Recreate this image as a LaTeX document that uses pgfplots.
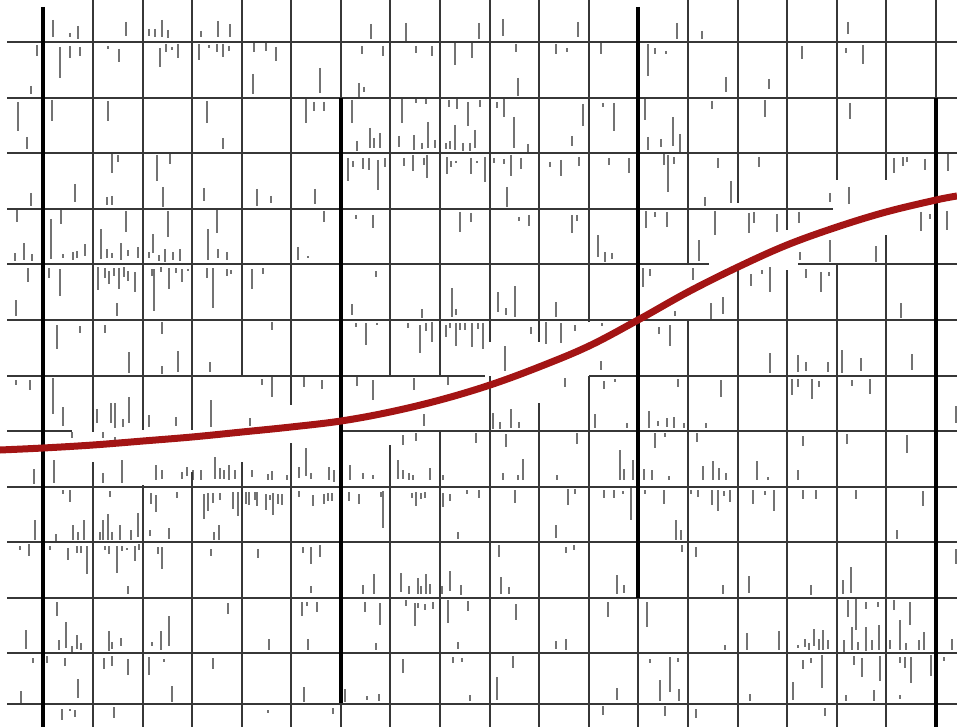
\documentclass[border=0pt]{standalone}
\usepackage{pgfplots}
\pgfplotsset{compat=1.18}
\definecolor{curvered}{RGB}{163,20,20}
\definecolor{tickgray}{RGB}{115,115,115}
\definecolor{gridgray}{RGB}{55,55,55}
\begin{document}
\begin{tikzpicture}
\begin{axis}[
  width=957pt, height=727pt, scale only axis,
  xmin=0, xmax=957, ymin=0, ymax=727, y dir=reverse,
  axis line style={draw=none}, xtick=\empty, ytick=\empty,
  clip=true,
]
% short vertical marks: x, top a, bottom b
\addplot[tickgray, line width=1.4pt, quiver={u=0, v=\thisrow{b}-\thisrow{a}}] table[x=x, y=a] {
x a b
53 20 37
70 33 37
78 26 39
126 22 36
149 29 36
155 29 37
162 20 37
168 30 38
201 31 37
218 21 37
230 24 37
37 45 56
60 47 78
70 46 58
80 47 56
108 46 49
119 49 62
160 48 67
166 44 52
172 47 50
178 44 58
199 44 60
209 45 48
217 44 52
223 44 57
229 46 51
254 42 52
266 43 51
276 47 61
31 86 94
253 74 94
18 102 131
52 100 121
108 101 121
207 101 123
306 99 123
314 102 111
27 137 149
223 138 149
112 154 173
118 155 162
157 155 181
170 153 164
31 193 206
75 184 202
107 197 205
112 196 205
163 187 207
204 188 201
257 189 206
271 196 203
315 189 204
17 209 222
51 219 259
61 209 224
101 229 259
126 211 232
153 234 253
168 211 237
208 229 260
217 209 233
15 253 261
24 243 260
32 254 261
63 254 258
73 252 260
77 251 258
85 244 256
107 249 258
112 253 258
121 243 260
128 250 256
138 247 258
149 252 258
159 255 261
165 249 262
173 252 260
180 249 261
218 249 258
227 252 260
298 247 260
308 256 258
28 268 282
16 300 316
49 268 278
60 269 296
98 267 290
105 268 278
109 271 284
114 268 276
119 268 289
124 267 277
128 271 281
135 272 292
117 303 316
152 269 276
154 269 311
161 267 272
169 268 289
176 268 273
182 269 282
188 269 271
207 268 278
213 268 308
227 269 276
231 270 274
252 269 289
263 268 274
57 325 349
80 326 333
105 325 333
129 352 373
162 322 334
162 366 374
178 351 372
210 362 372
272 322 330
16 380 385
30 380 390
53 378 414
63 407 426
72 432 438
97 409 423
103 432 438
111 403 423
115 403 428
115 437 441
123 419 427
129 397 423
149 415 427
176 417 426
211 400 427
250 418 426
262 379 385
272 377 397
304 377 387
322 380 389
357 377 386
373 380 400
414 378 390
448 377 385
424 414 426
403 435 445
416 433 441
476 433 443
34 469 484
54 460 483
103 473 483
122 460 483
156 465 480
162 470 479
182 472 479
187 467 476
193 470 480
201 470 480
215 457 479
220 468 479
224 470 479
229 465 480
235 470 479
252 470 477
268 474 480
272 471 480
287 475 480
299 467 478
306 448 476
311 473 479
329 467 480
334 470 482
350 465 480
363 473 479
373 475 479
398 460 479
403 470 479
409 473 480
413 475 480
430 468 480
443 475 480
493 413 429
500 422 429
511 409 428
519 422 428
595 414 428
627 423 428
565 378 387
604 381 389
615 379 382
506 434 447
577 433 444
503 473 480
518 475 480
523 459 480
557 475 480
620 450 480
624 469 480
633 460 480
63 490 494
70 490 502
110 491 497
151 493 504
156 495 512
177 492 498
204 494 519
208 493 511
213 493 503
220 493 500
233 492 509
238 492 516
246 492 504
249 492 505
255 492 500
257 492 506
266 494 510
270 495 500
273 493 515
278 494 504
282 494 505
299 491 497
313 495 506
35 520 540
56 534 541
73 525 540
78 532 540
84 520 540
100 532 540
103 520 540
108 514 540
112 532 540
120 525 540
131 530 540
138 513 537
150 530 536
169 528 539
214 532 540
219 525 540
20 546 550
29 544 556
50 546 550
68 548 560
77 546 553
81 546 553
87 546 574
105 546 550
109 546 554
117 546 573
122 546 551
127 548 550
135 546 561
139 544 550
128 586 594
158 547 554
162 547 569
211 549 556
258 549 558
303 547 553
311 547 564
311 586 593
57 602 616
228 603 614
302 602 616
307 602 606
317 602 612
26 630 649
59 640 650
66 622 648
72 646 652
77 635 649
81 643 650
109 631 651
112 642 649
121 638 646
152 642 646
161 631 650
169 616 646
269 639 650
308 639 650
33 658 663
47 656 663
65 658 666
78 679 698
21 691 703
104 658 669
112 656 666
128 659 675
149 657 675
164 659 662
172 686 702
213 658 669
304 687 702
62 709 720
70 709 711
75 710 717
114 707 718
268 710 713
371 24 39
406 23 41
479 23 39
503 19 36
578 22 37
362 46 54
383 46 56
416 46 53
432 46 56
455 43 65
472 43 58
516 44 52
556 44 54
567 48 52
601 43 54
320 68 93
359 83 97
364 87 92
518 78 96
324 102 111
352 100 123
357 141 151
370 128 148
374 138 148
380 133 148
402 99 123
399 136 147
416 98 103
414 135 150
422 143 149
426 99 104
428 122 148
435 140 148
446 143 149
449 100 107
450 141 149
455 125 150
457 98 109
463 143 151
468 102 126
470 143 151
475 130 148
480 100 107
497 102 108
504 98 117
514 117 148
528 144 152
572 136 146
583 104 126
603 103 107
614 103 131
348 158 181
353 161 167
363 158 169
369 158 170
378 160 190
385 158 167
404 158 166
413 155 171
424 158 165
427 155 178
447 157 174
451 161 167
456 161 163
471 158 174
477 161 163
485 157 182
494 158 163
504 159 164
511 155 176
507 187 207
521 158 169
550 162 167
561 160 176
579 157 166
609 158 165
629 158 173
324 211 222
356 215 219
373 215 228
460 212 232
471 213 222
519 217 221
529 215 226
572 215 233
577 215 221
598 235 257
605 252 262
612 253 259
376 271 277
352 304 315
422 309 318
452 288 317
456 309 315
498 292 312
506 308 315
515 286 317
556 302 317
356 323 327
366 323 345
377 323 325
408 323 328
420 325 353
426 323 331
432 322 342
446 325 337
450 323 328
456 323 346
460 323 330
465 323 330
472 323 347
478 323 329
483 323 349
505 346 371
531 327 334
546 322 344
561 323 343
575 325 331
602 323 326
601 361 370
324 494 504
328 493 501
332 493 501
349 492 501
359 494 504
381 492 497
383 491 528
412 493 498
416 492 506
421 493 499
425 492 498
443 493 507
450 494 501
467 490 494
479 490 498
458 532 539
515 490 503
556 525 538
568 489 505
575 489 494
604 490 498
614 490 498
623 491 494
631 488 520
320 545 557
363 585 594
374 574 594
401 573 592
409 586 594
418 578 594
421 586 594
426 574 594
430 584 594
442 586 594
450 571 591
461 585 595
499 545 557
501 577 594
509 587 594
566 547 553
574 545 550
617 575 594
624 585 593
365 602 612
380 603 625
376 643 650
406 600 606
415 603 626
418 603 608
425 604 610
433 602 609
448 600 623
458 642 649
468 601 611
516 604 620
556 641 649
566 639 650
608 602 617
403 659 673
453 657 663
462 658 662
513 656 668
345 689 702
367 696 700
379 694 701
470 695 701
497 677 700
617 688 700
333 708 714
603 706 715
677 23 39
702 31 39
848 22 34
648 44 76
655 48 54
666 51 54
802 46 59
846 48 53
863 45 64
726 77 92
769 79 89
645 99 120
712 101 109
765 100 117
850 103 119
648 137 150
661 139 147
673 117 146
680 134 152
664 154 165
668 155 192
674 157 164
718 158 168
759 157 167
894 158 173
903 157 166
907 157 162
925 159 170
948 154 171
705 197 206
731 181 203
830 193 202
849 187 204
646 211 228
655 212 217
667 212 227
715 211 235
749 213 233
754 212 223
777 214 232
799 212 223
921 212 231
930 214 219
947 211 230
699 240 261
800 252 260
830 240 262
876 246 262
643 268 287
650 269 276
693 268 280
751 274 286
762 270 274
770 267 292
806 269 278
821 272 292
829 272 276
675 311 316
711 303 319
723 297 314
901 303 318
659 327 334
670 325 346
770 353 373
798 355 372
806 362 371
828 362 372
842 350 373
861 358 371
912 354 370
678 379 387
721 380 397
792 379 395
798 379 387
812 379 399
819 381 387
852 380 386
870 379 394
649 411 428
658 421 426
667 418 427
674 417 428
684 423 428
706 423 428
956 406 423
655 433 448
665 433 437
697 433 442
803 436 446
847 434 444
907 435 453
644 469 480
652 470 480
669 476 480
703 466 480
713 461 480
719 468 480
726 473 480
757 461 480
768 477 480
798 470 480
645 490 494
664 490 504
691 490 494
698 490 497
712 490 505
718 490 511
724 491 496
730 490 502
753 490 504
765 491 495
774 490 511
803 490 499
816 490 499
856 490 499
923 491 506
676 520 540
681 530 540
897 530 539
682 545 552
696 547 557
723 585 594
749 576 593
811 585 595
843 580 594
851 567 593
956 549 564
647 602 627
725 645 650
747 633 650
779 631 650
798 645 648
805 639 647
809 643 650
814 629 646
819 639 650
823 630 650
828 640 649
848 600 617
856 599 630
866 602 609
878 602 607
844 640 652
852 627 650
858 642 650
866 627 651
872 640 650
879 625 650
894 600 610
890 640 649
900 620 650
906 643 650
910 602 625
919 640 650
924 632 650
952 639 650
650 659 663
670 657 692
678 658 662
660 680 701
679 689 701
750 694 701
803 660 669
811 658 663
822 655 688
793 682 700
854 656 665
862 658 677
880 656 681
846 695 701
874 690 701
900 657 663
905 657 668
911 657 683
931 655 676
900 695 699
944 657 661
665 706 716
696 709 718
825 708 716
};
% thin grid segments: start x, y and extent u, v
\addplot[gridgray, line width=1.1pt, quiver={u=\thisrow{u}, v=\thisrow{v}}] table {
x y u v
7 42 950 0
7 98 950 0
7 153 950 0
7 209 826 0
7 264 702 0
798 264 159 0
7 320 950 0
7 376 478 0
589 376 368 0
7 431 65 0
341 431 616 0
7 487 950 0
7 542 950 0
7 598 950 0
7 653 950 0
7 704 950 0
93 0 0 432
93 462 0 265
143 0 0 430
143 485 0 242
192 0 0 430
192 472 0 255
242 0 0 376
242 462 0 265
291 0 0 405
291 443 0 284
341 0 0 98
341 703 0 24
390 0 0 376
390 445 0 282
440 0 0 376
440 432 0 295
490 0 0 342
490 376 0 351
539 0 0 342
539 403 0 324
589 0 0 322
589 376 0 351
638 598 0 129
688 0 0 264
688 320 0 407
738 0 0 203
738 267 0 460
787 0 0 230
787 270 0 457
837 0 0 180
837 264 0 463
886 0 0 180
886 235 0 492
936 0 0 98
};
% thick black verticals
\addplot[black, line width=3.8pt, quiver={u=0, v=\thisrow{v}}] table {
x y v
43 7 720
341 98 605
638 7 591
936 98 629
};
% red curve
\addplot[curvered, line width=7pt, smooth, tension=0.6] coordinates {
(0,450) (43,448) (93,445) (143,441) (192,437) (242,432) (291,427) (341,421)
(390,412) (440,400) (490,385) (539,367) (589,346) (638,320) (688,292)
(738,267) (787,245) (837,227) (886,212) (936,200) (957,196)
};
\end{axis}
\end{tikzpicture}
\end{document}
